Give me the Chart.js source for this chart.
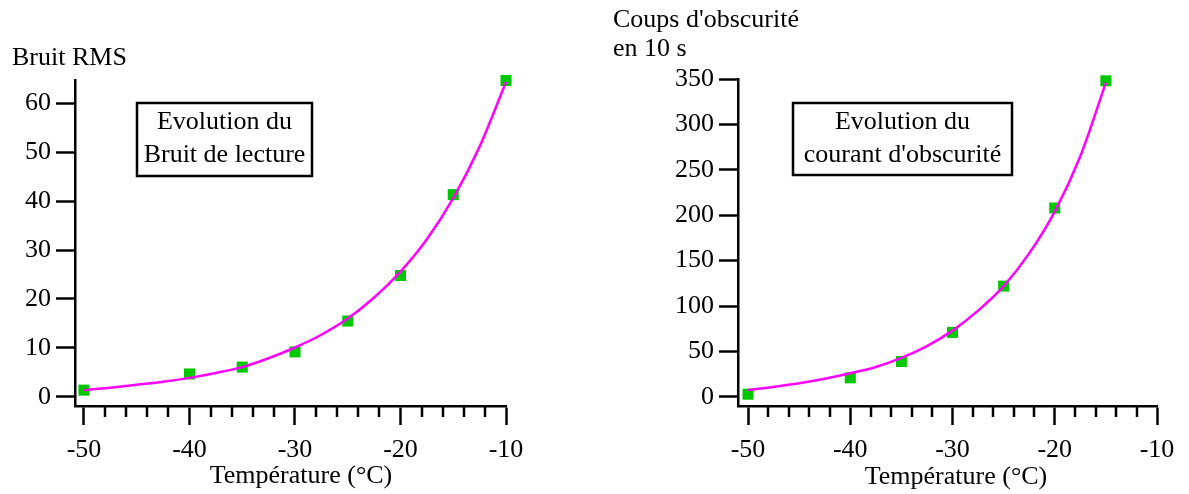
<!DOCTYPE html>
<html>
<head>
<meta charset="utf-8">
<script src="https://cdn.jsdelivr.net/npm/chart.js@4.4.1/dist/chart.umd.min.js"></script>
<style>
    body { margin: 0; background: #fff; width: 1189px; height: 494px; overflow: hidden; position: relative; }
    canvas { position: absolute; top: 0; }
    #bruitChart { left: 0; }
    #darkChart { left: 594px; }
</style>
</head>
<body>
<canvas id="bruitChart" width="590" height="494"></canvas>
<canvas id="darkChart" width="595" height="494"></canvas>
<script>
// Mesures
const tempBruit = [-50, -40, -35, -30, -25, -20, -15, -10];
const bruitRms = [1.4, 4.7, 6.1, 9.2, 15.5, 24.8, 41.3, 64.6];
const tempDark = [-50, -40, -35, -30, -25, -20, -15];
const darkCounts = [3, 21, 39, 71, 122, 208, 348];

// Courbes d'ajustement
const fitTempBruit = [-50, -47.5, -45, -42.5, -40, -37.5, -35, -32.5, -30, -27.5, -25, -22.5, -20, -17.5, -15, -12.5, -10];
const fitBruit = [1.4, 1.9, 2.5, 3.1, 3.9, 4.9, 6.1, 7.9, 10.1, 12.7, 16.0, 20.3, 25.6, 32.2, 40.6, 51.1, 64.3];
const fitTempDark = [-50, -47.5, -45, -42.5, -40, -37.5, -35, -32.5, -30, -27.5, -25, -22.5, -20, -17.5, -15];
const fitDark = [7.5, 11, 15, 20, 26, 33, 43, 56, 73, 95, 122, 158, 204, 265, 346];

// Graduations
const tempTicks = [-50, -48, -46, -44, -42, -40, -38, -36, -34, -32, -30, -28, -26, -24, -22, -20, -18, -16, -14, -12, -10];
const bruitTicks = [0, 10, 20, 30, 40, 50, 60];
const darkTicks = [0, 50, 100, 150, 200, 250, 300, 350];

const FONT = "'Liberation Serif', 'Times New Roman', serif";
const FONT_SIZE = 26;
const GREEN = "#00c800";
const MAGENTA = "#ff00ff";

// Petites graduations + textes + cadre
const decor = {
    id: "decor",
    afterDraw(chart, args, opts) {
        const ctx = chart.ctx;
        const xs = chart.scales.x;
        const area = chart.chartArea;
        ctx.save();
        ctx.strokeStyle = "#000";
        ctx.lineWidth = 2.5;
        xs.ticks.forEach((t) => {
            if (t.value % 10 !== 0) {
                const px = Math.round(xs.getPixelForValue(t.value));
                ctx.beginPath();
                ctx.moveTo(px, area.bottom);
                ctx.lineTo(px, area.bottom + 11);
                ctx.stroke();
            }
        });
        ctx.fillStyle = "#000";
        ctx.font = FONT_SIZE + "px " + FONT;
        ctx.textBaseline = "middle";
        opts.texts.forEach((t) => {
            ctx.textAlign = t.align || "left";
            ctx.fillText(t.text, t.x, t.y);
        });
        const b = opts.box;
        ctx.lineWidth = 2.5;
        ctx.strokeRect(b.x, b.y, b.w, b.h);
        ctx.textAlign = "center";
        b.lines.forEach((line, i) => {
            ctx.fillText(line, b.x + b.w / 2, b.y + 19 + i * 33);
        });
        ctx.restore();
    },
};

function axisOptions(xMin, yMin, yMax, yTicks, yWidth) {
    return {
        x: {
            type: "linear",
            min: xMin,
            max: -10,
            afterBuildTicks: (scale) => {
                scale.ticks = tempTicks.map((v) => ({ value: v }));
            },
            afterFit: (scale) => {
                scale.height = 88;
            },
            border: { display: true, color: "#000", width: 2.5 },
            grid: {
                drawOnChartArea: false,
                drawTicks: true,
                tickLength: 19,
                tickWidth: 2.5,
                tickColor: (c) => (c.tick && c.tick.value % 10 === 0 ? "#000" : "rgba(0,0,0,0)"),
            },
            ticks: {
                color: "#000",
                padding: 10,
                maxRotation: 0,
                autoSkip: false,
                font: { family: FONT, size: FONT_SIZE },
                callback: (v) => (v % 10 === 0 ? String(v) : ""),
            },
        },
        y: {
            min: yMin,
            max: yMax,
            afterBuildTicks: (scale) => {
                scale.ticks = yTicks.map((v) => ({ value: v }));
            },
            afterFit: (scale) => {
                scale.width = yWidth;
            },
            border: { display: true, color: "#000", width: 2.5 },
            grid: {
                drawOnChartArea: false,
                drawTicks: true,
                tickLength: 19,
                tickWidth: 2.5,
                tickColor: "#000",
            },
            ticks: {
                color: "#000",
                padding: 5,
                font: { family: FONT, size: FONT_SIZE },
            },
        },
    };
}

// Graphique : bruit de lecture
const bruitChart = new Chart(document.getElementById("bruitChart"), {
    type: "line",
    data: {
        datasets: [
            {
                label: "Ajustement",
                data: fitTempBruit.map((t, i) => ({ x: t, y: fitBruit[i] })),
                borderColor: MAGENTA,
                borderWidth: 2.5,
                pointRadius: 0,
                cubicInterpolationMode: "monotone",
                clip: false,
            },
            {
                label: "Bruit RMS",
                data: tempBruit.map((t, i) => ({ x: t, y: bruitRms[i] })),
                showLine: false,
                pointStyle: "rect",
                pointRadius: 7.8,
                pointBackgroundColor: GREEN,
                pointBorderWidth: 0,
                clip: false,
            },
        ],
    },
    options: {
        responsive: false,
        animation: false,
        layout: { padding: { top: 80, right: 84, bottom: 0, left: 0 } },
        scales: axisOptions(-50.85, -1.84, 64.7, bruitTicks, 75),
        plugins: {
            legend: { display: false },
            tooltip: { enabled: false },
            decor: {
                texts: [
                    { text: "Bruit RMS", x: 12, y: 58 },
                    { text: "Température (°C)", x: 301, y: 476, align: "center" },
                ],
                box: { x: 137, y: 103, w: 175, h: 73, lines: ["Evolution du", "Bruit de lecture"] },
            },
        },
    },
    plugins: [decor],
});

// Graphique : courant d'obscurité
const darkChart = new Chart(document.getElementById("darkChart"), {
    type: "line",
    data: {
        datasets: [
            {
                label: "Ajustement",
                data: fitTempDark.map((t, i) => ({ x: t, y: fitDark[i] })),
                borderColor: MAGENTA,
                borderWidth: 2.5,
                pointRadius: 0,
                cubicInterpolationMode: "monotone",
                clip: false,
            },
            {
                label: "Coups d'obscurité",
                data: tempDark.map((t, i) => ({ x: t, y: darkCounts[i] })),
                showLine: false,
                pointStyle: "rect",
                pointRadius: 7.8,
                pointBackgroundColor: GREEN,
                pointBorderWidth: 0,
                clip: false,
            },
        ],
    },
    options: {
        responsive: false,
        animation: false,
        layout: { padding: { top: 79, right: 32, bottom: 0, left: 0 } },
        scales: axisOptions(-50.98, -10, 350, darkTicks, 144),
        plugins: {
            legend: { display: false },
            tooltip: { enabled: false },
            decor: {
                texts: [
                    { text: "Coups d'obscurité", x: 19, y: 20 },
                    { text: "en 10 s", x: 19, y: 49 },
                    { text: "Température (°C)", x: 362, y: 477, align: "center" },
                ],
                box: { x: 199, y: 103, w: 219, h: 72, lines: ["Evolution du", "courant d'obscurité"] },
            },
        },
    },
    plugins: [decor],
});
</script>
</body>
</html>
